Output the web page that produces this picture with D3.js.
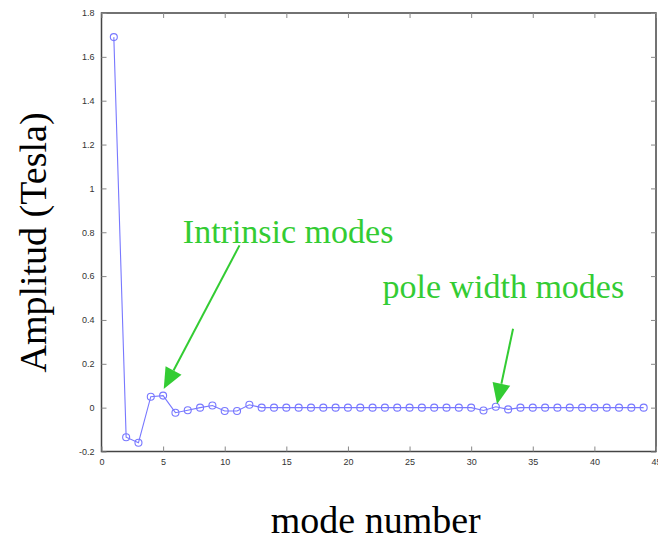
<!DOCTYPE html>
<html>
<head>
<meta charset="utf-8">
<script src="https://cdn.jsdelivr.net/npm/d3@7/dist/d3.min.js"></script>
<style>
  html, body { margin: 0; padding: 0; background: #fff; }
  svg { display: block; }
</style>
</head>
<body>
<script>
// ---- data ----
const modeNumbers = d3.range(1, 45);
const amplitudes = [
  1.69, -0.135, -0.16, 0.05, 0.055, -0.023, -0.012, 0.0, 0.01, -0.015,
  -0.015, 0.013, 0.0, 0.0, 0.0, 0.0, 0.0, 0.0, 0.0, 0.0,
  0.0, 0.0, 0.0, 0.0, 0.0, 0.0, 0.0, 0.0, 0.0, 0.0,
  -0.013, 0.004, -0.008, 0.0, 0.0, 0.0, 0.0, 0.0, 0.0, 0.0,
  0.0, 0.0, 0.0, 0.0
];
const xTickValues = [0, 5, 10, 15, 20, 25, 30, 35, 40, 45];
const xTickLabels = ["0", "5", "10", "15", "20", "25", "30", "35", "40", "45"];
const yTickValues = [-0.2, 0, 0.2, 0.4, 0.6, 0.8, 1, 1.2, 1.4, 1.6, 1.8];
const yTickLabels = ["-0.2", "0", "0.2", "0.4", "0.6", "0.8", "1", "1.2", "1.4", "1.6", "1.8"];
const annotationTexts = ["Intrinsic modes", "pole width modes"];
const annotationTextPos = [[6.6, 0.75], [22.8, 0.50]];      // data coords (start, baseline)
const arrowTails = [[11.2, 0.74], [33.4, 0.36]];           // data coords
const arrowTips = [[5.05, 0.085], [32.1, 0.015]];          // data coords
const xTitle = "mode number";
const yTitle = "Amplitud (Tesla)";

// ---- layout ----
const W = 658, H = 538;
const svg = d3.select("body").append("svg").attr("width", W).attr("height", H);
svg.append("rect").attr("width", W).attr("height", H).attr("fill", "#fff");

const x = d3.scaleLinear().domain([0, 45]).range([101.5, 656]);
const y = d3.scaleLinear().domain([-0.2, 1.8]).range([451.5, 13]);

const axisColor = "#444";
const tickFont = "Liberation Sans, Arial, sans-serif";

// frame
svg.append("rect")
  .attr("x", x(0)).attr("y", y(1.8))
  .attr("width", x(45) - x(0)).attr("height", y(-0.2) - y(1.8))
  .attr("fill", "none").attr("stroke", axisColor).attr("stroke-width", 1.5);

// bottom axis
const gx = svg.append("g").attr("transform", `translate(0,${y(-0.2)})`)
  .call(d3.axisBottom(x).tickValues(xTickValues)
    .tickFormat((d, i) => xTickLabels[i]).tickSizeInner(-5).tickSizeOuter(0).tickPadding(7));
// top ticks
const gxt = svg.append("g").attr("transform", `translate(0,${y(1.8)})`)
  .call(d3.axisTop(x).tickValues(xTickValues).tickFormat("").tickSizeInner(-5).tickSizeOuter(0));
// left axis
const gy = svg.append("g").attr("transform", `translate(${x(0)},0)`)
  .call(d3.axisLeft(y).tickValues(yTickValues)
    .tickFormat((d, i) => yTickLabels[i]).tickSizeInner(-5).tickSizeOuter(0).tickPadding(7));
// right ticks
const gyr = svg.append("g").attr("transform", `translate(${x(45)},0)`)
  .call(d3.axisRight(y).tickValues(yTickValues).tickFormat("").tickSizeInner(-5).tickSizeOuter(0));

[gx, gxt, gy, gyr].forEach(g => {
  g.select(".domain").remove();
  g.selectAll(".tick line").attr("stroke", "#888").attr("stroke-width", 1);
  g.selectAll(".tick text").attr("fill", "#333")
    .style("font-family", tickFont).style("font-size", "9px");
});

// ---- series ----
const data = modeNumbers.map((m, i) => ({ m, v: amplitudes[i] }));
const lineColor = "#7878ff";
svg.append("path")
  .datum(data)
  .attr("fill", "none")
  .attr("stroke", lineColor)
  .attr("stroke-width", 1.1)
  .attr("d", d3.line().x(d => x(d.m)).y(d => y(d.v)));

svg.append("g").selectAll("circle")
  .data(data)
  .join("circle")
  .attr("cx", d => x(d.m))
  .attr("cy", d => y(d.v))
  .attr("r", 3.5)
  .attr("fill", "none")
  .attr("stroke", lineColor)
  .attr("stroke-width", 1.1);

// ---- annotations ----
const green = "#33cc33";
const serif = "Liberation Serif, 'Times New Roman', serif";
annotationTexts.forEach((t, i) => {
  svg.append("text")
    .attr("x", x(annotationTextPos[i][0]))
    .attr("y", y(annotationTextPos[i][1]))
    .attr("fill", green)
    .style("font-family", serif)
    .style("font-size", "34px")
    .text(t);
});

arrowTips.forEach((tip, i) => {
  const tx = x(tip[0]), ty = y(tip[1]);
  const sx = x(arrowTails[i][0]), sy = y(arrowTails[i][1]);
  const dx = tx - sx, dy = ty - sy;
  const len = Math.hypot(dx, dy);
  const ux = dx / len, uy = dy / len;
  const headLen = 21, headHalf = 9;
  const bx = tx - ux * headLen, by = ty - uy * headLen;
  svg.append("line")
    .attr("x1", sx).attr("y1", sy).attr("x2", bx).attr("y2", by)
    .attr("stroke", green).attr("stroke-width", 2);
  svg.append("polygon")
    .attr("points", [
      [tx, ty],
      [bx - uy * headHalf, by + ux * headHalf],
      [bx + uy * headHalf, by - ux * headHalf]
    ].map(p => p.join(",")).join(" "))
    .attr("fill", green);
});

// ---- axis titles ----
svg.append("text")
  .attr("x", (x(0) + x(45)) / 2 - 3)
  .attr("y", 533)
  .attr("text-anchor", "middle")
  .attr("fill", "#000")
  .style("font-family", serif)
  .style("font-size", "38px")
  .text(xTitle);

svg.append("text")
  .attr("transform", `translate(46,${242.5}) rotate(-90)`)
  .attr("text-anchor", "middle")
  .attr("fill", "#000")
  .style("font-family", serif)
  .style("font-size", "38px")
  .text(yTitle);
</script>
</body>
</html>
